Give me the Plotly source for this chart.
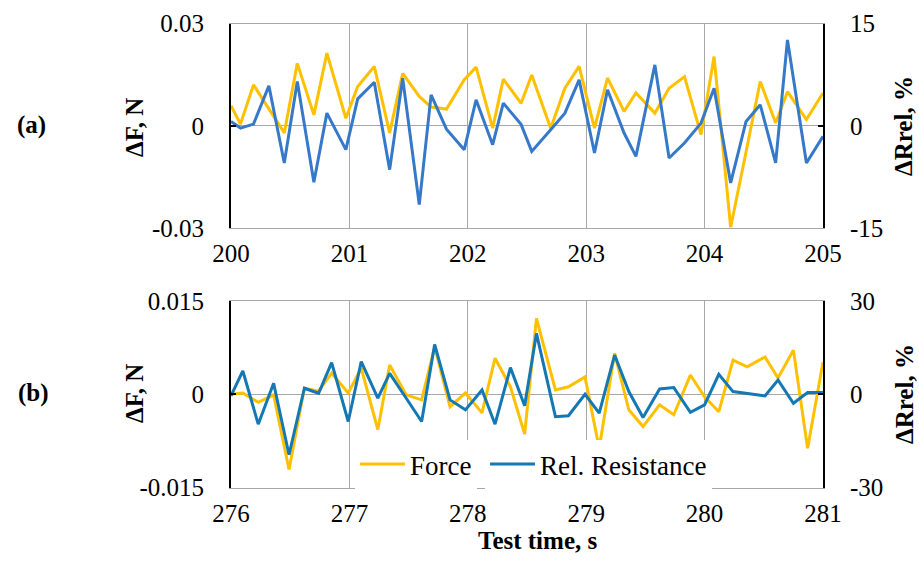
import plotly.graph_objects as go

# ---- panel (a): 200-205 s ----
time_a = [200.00, 200.08, 200.19, 200.32, 200.45, 200.56, 200.70, 200.81, 200.97, 201.07,
          201.21, 201.34, 201.45, 201.59, 201.69, 201.82, 201.97, 202.07, 202.21, 202.30,
          202.45, 202.54, 202.70, 202.82, 202.94, 203.07, 203.18, 203.32, 203.42, 203.58,
          203.70, 203.83, 203.97, 204.08, 204.22, 204.35, 204.47, 204.60, 204.70, 204.86,
          205.00]
force_a = [0.0059, 0.0005, 0.0120, 0.0048, -0.0021, 0.0183, 0.0032, 0.0213, 0.0022, 0.0115,
           0.0174, -0.0021, 0.0154, 0.0086, 0.0055, 0.0049, 0.0135, 0.0172, -0.0007, 0.0137,
           0.0066, 0.0149, -0.0007, 0.0110, 0.0174, -0.0007, 0.0140, 0.0042, 0.0096, 0.0037,
           0.0110, 0.0144, -0.0026, 0.0203, -0.0298, -0.0077, 0.0130, 0.0008, 0.0100, 0.0018,
           0.0096]
rres_a = [0.63, -0.34, 0.24, 5.85, -5.46, 6.49, -8.29, 1.85, -3.51, 3.95,
          6.39, -6.44, 6.98, -11.56, 4.54, -0.50, -3.51, 3.80, -2.78, 3.32,
          0.20, -3.76, -0.59, 1.85, 6.73, -4.00, 5.27, -1.07, -4.49, 8.93,
          -4.73, -2.54, 0.39, 5.51, -8.39, 0.63, 3.07, -5.46, 12.59, -5.46,
          -1.56]

# ---- panel (b): 276-281 s ----
time_b = [276.00, 276.10, 276.23, 276.36, 276.49, 276.62, 276.74, 276.85, 276.99, 277.10,
          277.24, 277.34, 277.48, 277.61, 277.72, 277.85, 277.98, 278.12, 278.23, 278.36,
          278.48, 278.58, 278.74, 278.85, 278.99, 279.11, 279.24, 279.36, 279.48, 279.62,
          279.74, 279.88, 280.00, 280.12, 280.24, 280.36, 280.51, 280.62, 280.75, 280.87,
          281.00]
force_b = [0.0000, 0.0002, -0.0013, -0.0001, -0.0121, 0.0010, 0.0005, 0.0034, 0.0002, 0.0042,
           -0.0057, 0.0047, -0.0001, -0.0009, 0.0076, -0.0020, 0.0002, -0.0030, 0.0058, 0.0012,
           -0.0064, 0.0122, 0.0007, 0.0012, 0.0028, -0.0087, 0.0066, -0.0025, -0.0052, -0.0017,
           -0.0033, 0.0031, -0.0004, -0.0028, 0.0055, 0.0044, 0.0060, 0.0026, 0.0071, -0.0087,
           0.0052]
rres_b = [-0.50, 7.49, -9.63, 3.53, -19.47, 1.93, 0.32, 10.16, -8.77, 10.48,
          -1.28, 6.74, -1.30, -8.77, 16.04, -1.82, -5.03, 1.39, -9.63, 8.56,
          -3.70, 19.57, -7.20, -6.90, 0.00, -6.10, 12.62, 0.86, -7.49, 1.71,
          2.14, -5.78, -3.42, 6.42, 0.86, 0.32, -0.53, 4.60, -2.89, 0.53,
          0.53]

# ---- tick definitions ----
xticks_a = [200, 201, 202, 203, 204, 205]
xticks_b = [276, 277, 278, 279, 280, 281]
fticks_a = [-0.03, 0, 0.03]
fticklabels_a = ["-0.03", "0", "0.03"]
rticks_a = [-15, 0, 15]
rticklabels_a = ["-15", "0", "15"]
fticks_b = [-0.015, 0, 0.015]
fticklabels_b = ["-0.015", "0", "0.015"]
rticks_b = [-30, 0, 30]
rticklabels_b = ["-30", "0", "30"]

W, H = 919, 563
FONT = "Liberation Serif, Times New Roman, serif"
ORANGE = "#FFC000"
BLUE_A = "#3579C8"
BLUE_B = "#1478B4"
GRID = "#A8A8A8"


def px(x):
    return x / W


def py(y):
    return 1 - y / H


fig = go.Figure()
fig.add_trace(go.Scatter(x=time_a, y=force_a, mode="lines", line=dict(color=ORANGE, width=3),
                         xaxis="x", yaxis="y", showlegend=False, name="Force"))
fig.add_trace(go.Scatter(x=time_a, y=rres_a, mode="lines", line=dict(color=BLUE_A, width=3),
                         xaxis="x", yaxis="y2", showlegend=False, name="Rel. Resistance"))
fig.add_trace(go.Scatter(x=time_b, y=force_b, mode="lines", line=dict(color=ORANGE, width=3),
                         xaxis="x2", yaxis="y3", name="Force", legend="legend"))
fig.add_trace(go.Scatter(x=time_b, y=rres_b, mode="lines", line=dict(color=BLUE_B, width=3),
                         xaxis="x2", yaxis="y4", name="Rel. Resistance", legend="legend2"))

xdom = [px(231), px(823)]
tickfont = dict(family=FONT, size=25, color="black")

common_x = dict(domain=xdom, showgrid=True, gridcolor=GRID, gridwidth=1,
                showline=True, linecolor=GRID, linewidth=1, mirror=True,
                ticks="", zeroline=False, tickfont=tickfont, ticklabelstandoff=3,
                automargin=False)
left_y = dict(showline=True, linecolor="black", linewidth=2, ticks="inside", ticklen=5,
              tickwidth=2, tickcolor="black", showgrid=True, gridcolor=GRID, gridwidth=1,
              zeroline=False, tickfont=tickfont, ticklabelstandoff=20, automargin=False)
right_y = dict(showline=True, linecolor="black", linewidth=2, ticks="inside", ticklen=5,
               tickwidth=2, tickcolor="black", showgrid=False, zeroline=False,
               tickfont=tickfont, ticklabelstandoff=20, side="right", automargin=False)

legend_style = dict(orientation="h", y=py(440), xanchor="left", yanchor="top",
                    bgcolor="white", font=dict(family=FONT, size=27, color="black"),
                    itemwidth=45)

fig.update_layout(
    width=W, height=H, margin=dict(l=0, r=0, t=0, b=0, autoexpand=False),
    paper_bgcolor="white", plot_bgcolor="white",
    xaxis=dict(common_x, anchor="y", range=[200, 205], tickvals=xticks_a),
    yaxis=dict(left_y, domain=[py(228), py(23.5)], anchor="x", range=[-0.03, 0.03],
               tickvals=fticks_a, ticktext=fticklabels_a),
    yaxis2=dict(right_y, overlaying="y", anchor="x", range=[-15, 15],
                tickvals=rticks_a, ticktext=rticklabels_a),
    xaxis2=dict(common_x, anchor="y3", range=[276, 281], tickvals=xticks_b),
    yaxis3=dict(left_y, domain=[py(487.5), py(301)], anchor="x2", range=[-0.015, 0.015],
                tickvals=fticks_b, ticktext=fticklabels_b),
    yaxis4=dict(right_y, overlaying="y3", anchor="x2", range=[-30, 30],
                tickvals=rticks_b, ticktext=rticklabels_b),
    legend=dict(legend_style, x=px(355)),
    legend2=dict(legend_style, x=px(485)),
    font=dict(family=FONT, color="black"),
)

annots = [
    dict(text="<b>(a)</b>", x=px(31), y=py(125)),
    dict(text="<b>(b)</b>", x=px(33), y=py(393)),
    dict(text="<b>ΔF, N</b>", x=px(134), y=py(128), textangle=-90),
    dict(text="<b>ΔF, N</b>", x=px(134), y=py(394), textangle=-90),
    dict(text="<b>ΔRrel, %</b>", x=px(904), y=py(126), textangle=-90),
    dict(text="<b>ΔRrel, %</b>", x=px(904), y=py(394), textangle=-90),
    dict(text="<b>Test time, s</b>", x=px(537), y=py(540)),
]
for a in annots:
    fig.add_annotation(xref="paper", yref="paper", showarrow=False,
                       xanchor="center", yanchor="middle",
                       font=dict(family=FONT, size=25, color="black"), **a)

fig.write_html("out.html")
